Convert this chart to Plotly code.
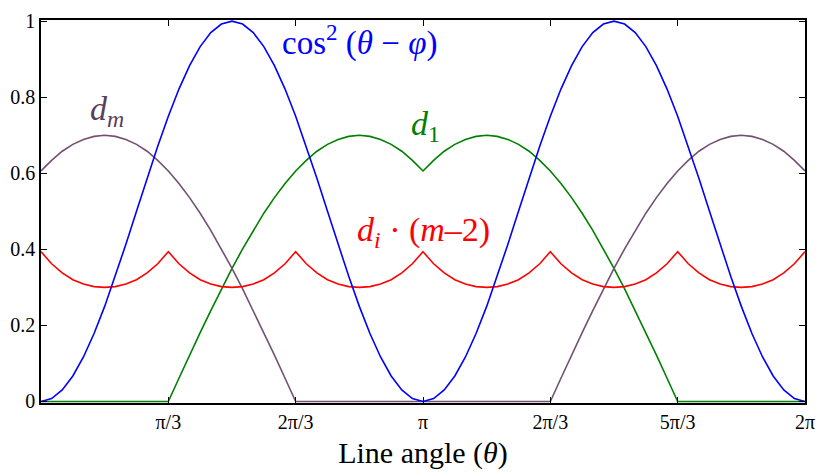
import plotly.graph_objects as go

# angle samples in degrees (0 .. 360, 5 degree steps)
theta_deg = list(range(0, 361, 5))

cos2_vals = [0, .0076, .0302, .0670, .1170, .1786, .25, .3290, .4132, .5, .5868, .6710, .75, .8214, .8830, .9330, .9698, .9924, 1,
             .9924, .9698, .9330, .8830, .8214, .75, .6710, .5868, .5, .4132, .3290, .25, .1786, .1170, .0670, .0302, .0076, 0,
             .0076, .0302, .0670, .1170, .1786, .25, .3290, .4132, .5, .5868, .6710, .75, .8214, .8830, .9330, .9698, .9924, 1,
             .9924, .9698, .9330, .8830, .8214, .75, .6710, .5868, .5, .4132, .3290, .25, .1786, .1170, .0670, .0302, .0076, 0]

dm_vals = [.606, .634, .658, .676, .689, .697, .700, .697, .689, .676, .658, .634, .606, .573, .536, .495, .450, .401, .350, .296, .239, .181, .122, .061, 0,
           0, 0, 0, 0, 0, 0, 0, 0, 0, 0, 0, 0, 0, 0, 0, 0, 0, 0, 0, 0, 0, 0, 0,
           0, .061, .122, .181, .239, .296, .350, .401, .450, .495, .536, .573, .606, .634, .658, .676, .689, .697, .700, .697, .689, .676, .658, .634, .606]

d1_vals = [0, 0, 0, 0, 0, 0, 0, 0, 0, 0, 0, 0,
           0, .061, .122, .181, .239, .296, .350, .401, .450, .495, .536, .573, .606, .634, .658, .676, .689, .697, .700, .697, .689, .676, .658, .634, .606,
           .634, .658, .676, .689, .697, .700, .697, .689, .676, .658, .634, .606, .573, .536, .495, .450, .401, .350, .296, .239, .181, .122, .061, 0,
           0, 0, 0, 0, 0, 0, 0, 0, 0, 0, 0, 0]

di_vals = [.394, .362, .338, .320, .309, .302, .300, .302, .309, .320, .338, .362,
           .394, .362, .338, .320, .309, .302, .300, .302, .309, .320, .338, .362,
           .394, .362, .338, .320, .309, .302, .300, .302, .309, .320, .338, .362,
           .394, .362, .338, .320, .309, .302, .300, .302, .309, .320, .338, .362,
           .394, .362, .338, .320, .309, .302, .300, .302, .309, .320, .338, .362,
           .394, .362, .338, .320, .309, .302, .300, .302, .309, .320, .338, .362,
           .394]

x_tickvals = [60, 120, 180, 240, 300, 360]
x_ticktext = ["π/3", "2π/3", "π", "2π/3", "5π/3", "2π"]
y_tickvals = [0, 0.2, 0.4, 0.6, 0.8, 1]
y_ticktext = ["0", "0.2", "0.4", "0.6", "0.8", "1"]

BLUE = "#0000ff"
RED = "#ff0000"
GREEN = "#008000"
PURPLE = "#725172"
FONT = "Liberation Serif"

fig = go.Figure()
fig.add_trace(go.Scatter(x=theta_deg, y=d1_vals, mode="lines", line=dict(color=GREEN, width=1.6), showlegend=False))
fig.add_trace(go.Scatter(x=theta_deg, y=dm_vals, mode="lines", line=dict(color=PURPLE, width=1.6), showlegend=False))
fig.add_trace(go.Scatter(x=theta_deg, y=di_vals, mode="lines", line=dict(color=RED, width=1.6), showlegend=False))
fig.add_trace(go.Scatter(x=theta_deg, y=cos2_vals, mode="lines", line=dict(color=BLUE, width=1.6), showlegend=False))

annots = [
    dict(x=150, y=0.948, text="cos<sup>2</sup> (<i>θ</i> − <i>φ</i>)", color=BLUE, size=33),
    dict(x=31, y=0.765, text="<i>d<sub>m</sub></i>", color="#5a3f5a", size=34),
    dict(x=181, y=0.724, text="<i>d</i><sub>1</sub>", color=GREEN, size=34),
    dict(x=180, y=0.445, text="<i>d<sub>i</sub></i> · (<i>m</i>–2)", color=RED, size=34),
]
for a in annots:
    fig.add_annotation(x=a["x"], y=a["y"], xref="x", yref="y", text=a["text"], showarrow=False,
                       font=dict(family=FONT, size=a["size"], color=a["color"]),
                       xanchor="center", yanchor="middle")

fig.update_layout(
    width=825, height=475,
    margin=dict(l=41, r=11, t=10, b=72),
    plot_bgcolor="white", paper_bgcolor="white",
    font=dict(family=FONT, size=20, color="black"),
)
fig.update_xaxes(range=[0, 360], tickvals=x_tickvals, ticktext=x_ticktext,
                 ticks="inside", ticklen=6, tickcolor="black", tickwidth=1,
                 showline=True, linecolor="black", linewidth=1.5, mirror="ticks",
                 showgrid=False, zeroline=False,
                 title=dict(text="Line angle (<i>θ</i>)", font=dict(family=FONT, size=30), standoff=10),
                 tickfont=dict(family=FONT, size=20))
fig.update_yaxes(range=[-0.004, 1.003], tickvals=y_tickvals, ticktext=y_ticktext,
                 ticks="inside", ticklen=6, tickcolor="black", tickwidth=1,
                 showline=True, linecolor="black", linewidth=1.5, mirror="ticks",
                 showgrid=False, zeroline=False,
                 tickfont=dict(family=FONT, size=20))

fig.write_html("out.html")
